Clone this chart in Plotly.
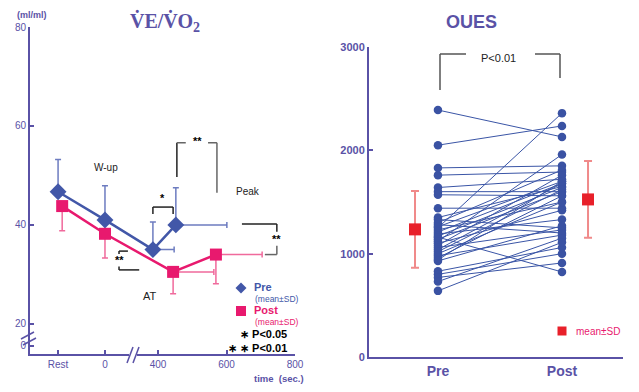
import plotly.graph_objects as go

# ---------------- data: VE/VO2 (left panel) ----------------
stages = ["Rest", "W-up", "AT", "Peak"]
# time axis position (sec); Rest / W-up are drawn left of the axis break
pre_time = [108, 245, 385, 452]
post_time = [120, 245, 444, 569]
pre_time_sd = [0, 0, 62, 149]
post_time_sd = [0, 0, 119, 135]
pre_vevo2 = [46.7, 41.0, 35.0, 40.0]
pre_vevo2_sd = [6.5, 6.9, 5.6, 7.5]
post_vevo2 = [43.8, 38.2, 30.5, 34.0]
post_vevo2_sd = [5.0, 4.9, 4.4, 5.9]
x_tickvals = [108, 245, 400, 600, 800]
x_ticktext = ["Rest", "0", "400", "600", "800"]
y_tickvals = [15.6, 20, 40, 60, 80]
y_ticktext = ["0", "20", "40", "60", "80"]

# ---------------- data: OUES (right panel) ----------------
oues_pre = [2390, 2050, 1830, 1760, 1640, 1600, 1570, 1440, 1350, 1330, 1300, 1280,
            1260, 1250, 1230, 1210, 1190, 1170, 1160, 1140, 1120, 1100, 1080, 1060,
            1040, 1020, 1000, 980, 960, 940, 930, 830, 800, 770, 730, 640]
oues_post = [2130, 2236, 1850, 1790, 1720, 1600, 1560, 1440, 1650, 1250, 1810, 1200,
             1700, 2360, 1500, 1680, 1330, 1640, 823, 1600, 1960, 1420, 1760, 1230,
             1680, 1620, 1500, 1180, 1560, 1700, 1270, 1060, 1000, 910, 1150, 1110]
oues_mean = [1235, 1525]
oues_sd = [372, 372]
oues_mean_x = [-0.185, 1.21]
oues_groups = ["Pre", "Post"]

W, H = 639, 392
PURPLE = "#5a52a6"
BLUE = "#4257a8"
PINK = "#e8196e"
RED = "#e8202a"
DARK = "#222222"


def px(x):
    return x / W


def py(y):
    return 1 - y / H


fig = go.Figure()

# Left: Pre
fig.add_trace(go.Scatter(
    x=pre_time, y=pre_vevo2, mode="lines+markers", xaxis="x", yaxis="y",
    line=dict(color=BLUE, width=2.5),
    marker=dict(symbol="diamond", size=13, color=BLUE),
    error_y=dict(type="data", array=pre_vevo2_sd, arrayminus=[0] * 4,
                 color="#6d7cc0", thickness=1.5, width=3),
    error_x=dict(type="data", array=pre_time_sd, arrayminus=[0] * 4,
                 color="#6d7cc0", thickness=1.5, width=3),
    showlegend=False, hoverinfo="skip"))
# Left: Post
fig.add_trace(go.Scatter(
    x=post_time, y=post_vevo2, mode="lines+markers", xaxis="x", yaxis="y",
    line=dict(color=PINK, width=2.5),
    marker=dict(symbol="square", size=12, color=PINK),
    error_y=dict(type="data", array=[0] * 4, arrayminus=post_vevo2_sd,
                 color="#f06a9c", thickness=1.5, width=3),
    error_x=dict(type="data", array=post_time_sd, arrayminus=[0] * 4,
                 color="#f06a9c", thickness=1.5, width=3),
    showlegend=False, hoverinfo="skip"))

# Right: individual lines
lx, ly = [], []
for a, b in zip(oues_pre, oues_post):
    lx += [0, 1, None]
    ly += [a, b, None]
fig.add_trace(go.Scatter(
    x=lx, y=ly, mode="lines+markers", xaxis="x2", yaxis="y2",
    line=dict(color="#3a55a6", width=1),
    marker=dict(size=8.5, color="#3a52a3"),
    showlegend=False, hoverinfo="skip"))
# Right: mean ± SD
fig.add_trace(go.Scatter(
    x=oues_mean_x, y=oues_mean, mode="markers", xaxis="x2", yaxis="y2",
    marker=dict(symbol="square", size=12, color=RED),
    error_y=dict(type="data", array=oues_sd, color="#f08a8a", thickness=2, width=4),
    showlegend=False, hoverinfo="skip"))

axis_common = dict(showline=True, linecolor=PURPLE, linewidth=2, ticks="inside",
                   tickcolor=PURPLE, ticklen=4, tickwidth=2, showgrid=False,
                   zeroline=False, automargin=False)

fig.update_layout(
    width=W, height=H, autosize=False,
    margin=dict(l=0, r=0, t=0, b=0, pad=0, autoexpand=False),
    paper_bgcolor="white", plot_bgcolor="white",
    font=dict(family="Liberation Sans, Arial", color=PURPLE),
    xaxis=dict(domain=[px(30), px(295)], range=[26, 800], tickvals=x_tickvals,
               ticktext=x_ticktext, tickfont=dict(size=10, color=PURPLE),
               anchor="y", **axis_common),
    yaxis=dict(domain=[py(354), py(27)], range=[13.9, 80], tickvals=y_tickvals,
               ticktext=y_ticktext, tickfont=dict(size=10, color=PURPLE),
               anchor="x", **axis_common),
    xaxis2=dict(domain=[px(369), px(623)], range=[-0.556, 1.492], tickvals=[0, 1],
                ticktext=oues_groups, anchor="y2", showline=True, linecolor=PURPLE,
                linewidth=2, ticks="", showgrid=False, zeroline=False, automargin=False,
                tickfont=dict(size=14, color=PURPLE, weight="bold")),
    yaxis2=dict(domain=[py(357), py(47)], range=[0, 3000], tickvals=[0, 1000, 2000, 3000],
                tickfont=dict(size=11, color=PURPLE, weight="bold"),
                anchor="x2", **axis_common),
)

ann = []


def add_text(x, y, text, size=10, color=DARK, bold=False, xanchor="center",
             xref="paper", yref="paper", family="Liberation Sans, Arial"):
    if xref == "paper":
        x, y = px(x), py(y)
    ann.append(dict(x=x, y=y, xref=xref, yref=yref, text=text, showarrow=False,
                    xanchor=xanchor, yanchor="middle",
                    font=dict(size=size, color=color, family=family,
                              weight="bold" if bold else "normal")))


shapes = []


def line(x0, y0, x1, y1, color=DARK, width=1.5, ref="data"):
    if ref == "data":
        shapes.append(dict(type="line", xref="x", yref="y", x0=x0, y0=y0, x1=x1, y1=y1,
                           line=dict(color=color, width=width)))
    else:
        shapes.append(dict(type="line", xref="paper", yref="paper", x0=px(x0), y0=py(y0),
                           x1=px(x1), y1=py(y1), line=dict(color=color, width=width)))


# titles and axis labels
add_text(165, 22, "V\u0307E/V\u0307O<sub>2</sub>", size=20, color=PURPLE, bold=True,
         family="Liberation Serif, Times New Roman")
add_text(471, 22, "OUES", size=18, color=PURPLE, bold=True)
add_text(32, 15, "(ml/ml)", size=9, color=PURPLE, bold=True)
add_text(279, 378, "time  (sec.)", size=9.5, color=PURPLE, bold=True)

# left annotations (data coords)
add_text(248, 51.5, "W-up", size=10, xref="x", yref="y")
add_text(663, 46.7, "Peak", size=10, xref="x", yref="y")
add_text(377, 25.7, "AT", size=11, xref="x", yref="y")
add_text(413, 45.4, "*", size=11, color="black", bold=True, xref="x", yref="y")
add_text(514, 57.0, "**", size=11, color="black", bold=True, xref="x", yref="y")
add_text(747, 37.2, "**", size=11, color="black", bold=True, xref="x", yref="y")
add_text(288, 33.0, "**", size=11, color="black", bold=True, xref="x", yref="y")

# '*' bracket AT
line(385, 42.2, 385, 43.6)
line(385, 43.6, 444, 43.6)
line(444, 43.6, 444, 42.2)
# '**' top bracket
line(455, 49.7, 455, 56.6)
line(455, 56.6, 481, 56.6, color="#666")
line(546, 56.6, 572, 56.6, color="#666")
line(572, 56.6, 572, 46.5, color="#666")
# '**' right bracket
line(645, 40.2, 747, 40.2)
line(747, 40.2, 747, 38.6)
line(747, 35.8, 747, 34.0, color="#666")
line(712, 34.0, 747, 34.0, color="#666")
# '**' left bracket
line(312, 34.7, 286, 34.7)
line(286, 34.7, 286, 34.1)
line(286, 31.6, 286, 30.9)
line(286, 30.9, 345, 30.9)

# axis breaks (pixel coords)
shapes.append(dict(type="rect", xref="paper", yref="paper", x0=px(129), x1=px(137),
                   y0=py(358), y1=py(350), fillcolor="white", line=dict(width=0)))
line(127, 363, 133, 347, color=PURPLE, width=1.5, ref="paper")
line(133, 363, 139, 347, color=PURPLE, width=1.5, ref="paper")
line(21, 339, 34, 332, color=PURPLE, width=1.5, ref="paper")
line(23, 345, 36, 338, color=PURPLE, width=1.5, ref="paper")

# left legend
shapes.append(dict(type="path", xref="paper", yref="paper",
                   path="M %f,%f L %f,%f L %f,%f L %f,%f Z" % (
                       px(235.5), py(288), px(241), py(282.5), px(246.5), py(288),
                       px(241), py(293.5)),
                   fillcolor=BLUE, line=dict(width=0)))
shapes.append(dict(type="rect", xref="paper", yref="paper", x0=px(236), x1=px(246),
                   y0=py(316), y1=py(306), fillcolor=PINK, line=dict(width=0)))
add_text(252, 287, "Pre", size=11, color=BLUE, bold=True, xanchor="left")
add_text(253, 299, "(mean\u00b1SD)", size=8.5, color=BLUE, xanchor="left")
add_text(252, 310, "Post", size=11, color=PINK, bold=True, xanchor="left")
add_text(253, 322, "(mean\u00b1SD)", size=8.5, color=PINK, xanchor="left")
add_text(289, 334, "\u2217 P<0.05", size=11, color="black", bold=True, xanchor="right")
add_text(289, 348, "\u2217 \u2217 P<0.01", size=11, color="black", bold=True, xanchor="right")

# right annotations
add_text(498, 58, "P<0.01", size=11)
line(440, 90, 440, 54, color="#555", ref="paper")
line(440, 54, 466, 54, color="#555", ref="paper")
line(535, 54, 560, 54, color="#555", ref="paper")
line(560, 54, 560, 78, color="#555", ref="paper")
shapes.append(dict(type="rect", xref="paper", yref="paper", x0=px(557.5), x1=px(566.5),
                   y0=py(335.5), y1=py(326.5), fillcolor=RED, line=dict(width=0)))
add_text(574, 331, "mean\u00b1SD", size=10, color=PINK, xanchor="left")

fig.update_layout(annotations=ann, shapes=shapes)
fig.write_html("out.html", config={"displayModeBar": False},
               post_script="document.body.style.margin='0';document.body.style.overflow='hidden';")
